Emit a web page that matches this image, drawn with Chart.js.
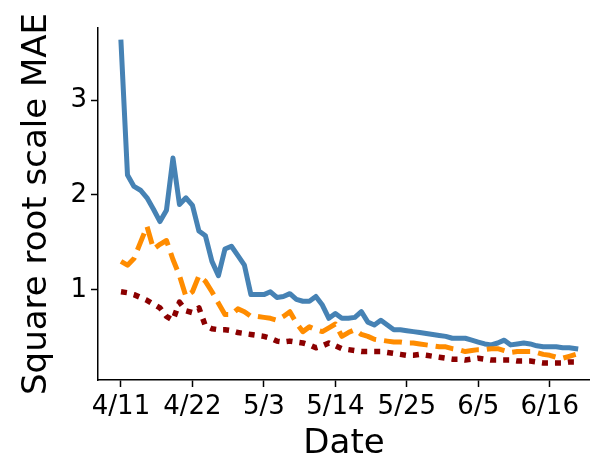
<!DOCTYPE html>
<html>
<head>
<meta charset="utf-8">
<script src="https://cdn.jsdelivr.net/npm/chart.js@4.4.1/dist/chart.umd.min.js"></script>
<style>
  html, body { margin: 0; padding: 0; background: #fff; }
  canvas { display: block; }
</style>
</head>
<body>
<canvas id="chart" width="590" height="459"></canvas>
<script>
'use strict';

// days since 4/11, one value per day
const tickDays = [0, 11, 22, 33, 44, 55, 66];
const tickLabels = ['4/11', '4/22', '5/3', '5/14', '5/25', '6/5', '6/16'];
const yTicks = [1, 2, 3];

const blueValues = [
    3.61, 2.21, 2.09, 2.05, 1.97, 1.85, 1.72, 1.84, 2.39, 1.90,
    1.97, 1.89, 1.62, 1.57, 1.30, 1.15, 1.43, 1.46, 1.36, 1.26,
    0.95, 0.95, 0.95, 0.98, 0.92, 0.93, 0.96, 0.90, 0.88, 0.88,
    0.93, 0.84, 0.70, 0.75, 0.70, 0.70, 0.71, 0.77, 0.66, 0.63,
    0.68, 0.63, 0.58, 0.58, 0.57, 0.56, 0.55, 0.54, 0.53, 0.52,
    0.51, 0.49, 0.49, 0.49, 0.47, 0.45, 0.43, 0.42, 0.44, 0.47,
    0.42, 0.43, 0.44, 0.43, 0.41, 0.40, 0.40, 0.40, 0.39, 0.39,
    0.38
];
const orangeValues = [
    1.30, 1.26, 1.33, 1.50, 1.67, 1.43, 1.48, 1.52, 1.32, 1.15,
    0.93, 0.98, 1.15, 1.09, 0.98, 0.86, 0.74, 0.74, 0.80, 0.77,
    0.72, 0.72, 0.71, 0.70, 0.68, 0.72, 0.77, 0.65, 0.56, 0.61,
    0.58, 0.56, 0.60, 0.64, 0.51, 0.55, 0.58, 0.53, 0.51, 0.48,
    0.47, 0.46, 0.45, 0.45, 0.44, 0.44, 0.43, 0.42, 0.41, 0.40,
    0.40, 0.38, 0.37, 0.35, 0.36, 0.37, 0.37, 0.38, 0.38, 0.36,
    0.34, 0.35, 0.35, 0.35, 0.34, 0.32, 0.31, 0.29, 0.28, 0.30,
    0.32
];
const redValues = [
    0.98, 0.97, 0.95, 0.92, 0.89, 0.85, 0.81, 0.72, 0.68, 0.87,
    0.78, 0.76, 0.81, 0.62, 0.59, 0.58, 0.58, 0.57, 0.55, 0.54,
    0.53, 0.52, 0.51, 0.49, 0.46, 0.45, 0.46, 0.45, 0.44, 0.42,
    0.39, 0.41, 0.44, 0.41, 0.38, 0.37, 0.36, 0.35, 0.35, 0.35,
    0.35, 0.34, 0.33, 0.32, 0.31, 0.31, 0.32, 0.31, 0.30, 0.29,
    0.28, 0.27, 0.27, 0.26, 0.27, 0.28, 0.27, 0.26, 0.26, 0.26,
    0.26, 0.25, 0.25, 0.25, 0.24, 0.23, 0.23, 0.23, 0.23, 0.24,
    0.24
];

const FONT = "'DejaVu Sans', sans-serif";

function toPoints(values) {
    return values.map((v, i) => ({ x: i, y: v }));
}

new Chart(document.getElementById('chart'), {
    type: 'line',
    data: {
        datasets: [
            {
                data: toPoints(redValues),
                borderColor: '#8B0000',
                borderWidth: 5.5,
                borderDash: [6, 7],
                borderCapStyle: 'butt',
                borderJoinStyle: 'round',
                pointRadius: 0,
                tension: 0
            },
            {
                data: toPoints(orangeValues),
                borderColor: '#FF8C00',
                borderWidth: 5,
                borderDash: [18, 8],
                borderCapStyle: 'butt',
                borderJoinStyle: 'round',
                pointRadius: 0,
                tension: 0
            },
            {
                data: toPoints(blueValues),
                borderColor: '#4682B4',
                borderWidth: 5,
                borderCapStyle: 'square',
                borderJoinStyle: 'round',
                pointRadius: 0,
                tension: 0
            }
        ]
    },
    options: {
        responsive: false,
        animation: false,
        layout: { padding: { top: 28, right: 0, left: 0, bottom: 0 } },
        plugins: {
            legend: { display: false },
            tooltip: { enabled: false }
        },
        scales: {
            x: {
                type: 'linear',
                min: -3.54,
                max: 72.2,
                afterBuildTicks: (scale) => {
                    scale.ticks = tickDays.map(v => ({ value: v }));
                },
                afterFit: (scale) => { scale.height = 79; },
                ticks: {
                    autoSkip: false,
                    maxRotation: 0,
                    color: '#000',
                    padding: 5,
                    font: { family: FONT, size: 26 },
                    callback: (v) => tickLabels[tickDays.indexOf(v)]
                },
                grid: {
                    drawOnChartArea: false,
                    drawTicks: true,
                    tickLength: 7,
                    tickWidth: 1.5,
                    color: '#000'
                },
                border: { display: true, color: '#000', width: 1.5 },
                title: {
                    display: true,
                    text: 'Date',
                    color: '#000',
                    font: { family: FONT, size: 34 },
                    padding: { top: 0, bottom: -6 }
                }
            },
            y: {
                min: 0.05,
                max: 3.76,
                afterBuildTicks: (scale) => {
                    scale.ticks = yTicks.map(v => ({ value: v }));
                },
                afterFit: (scale) => { scale.width = 98; },
                ticks: {
                    color: '#000',
                    padding: 4,
                    font: { family: FONT, size: 26 },
                    callback: (v) => String(v)
                },
                grid: {
                    drawOnChartArea: false,
                    drawTicks: true,
                    tickLength: 7,
                    tickWidth: 1.5,
                    color: '#000'
                },
                border: { display: true, color: '#000', width: 1.5 },
                title: {
                    display: true,
                    text: 'Square root scale MAE',
                    color: '#000',
                    font: { family: FONT, size: 34 },
                    padding: { top: 17, bottom: 0 }
                }
            }
        }
    }
});
</script>
</body>
</html>
